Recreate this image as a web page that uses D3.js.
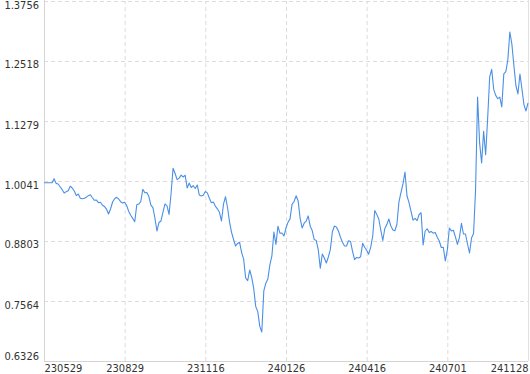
<!DOCTYPE html>
<html>
<head>
<meta charset="utf-8">
<script src="https://cdn.jsdelivr.net/npm/d3@7"></script>
<style>
  body { margin: 0; background: #fff; }
  .lbl text { font-family: "DejaVu Sans Condensed", "Liberation Sans", sans-serif; font-size: 11px; fill: #333; }
</style>
</head>
<body>
<div id="chart"></div>
<script>
// tick labels on x (one every 40 points) and y
var dateLabels = ["230529", "230829", "231116", "240126", "240416", "240701", "241128"];
var yTicks = [0.6326, 0.7564, 0.8803, 1.0041, 1.1279, 1.2518, 1.3756];

// series
var values = [
  1.0006, 1.0006, 1.0006, 1.0006, 1.0006, 1.0089, 0.9992, 0.9980, 0.9922, 0.9862,
  0.9794, 0.9821, 0.9839, 0.9934, 0.9897, 0.9835, 0.9740, 0.9773, 0.9686, 0.9676,
  0.9686, 0.9707, 0.9738, 0.9757, 0.9695, 0.9643, 0.9647, 0.9593, 0.9602, 0.9540,
  0.9513, 0.9459, 0.9360, 0.9463, 0.9608, 0.9676, 0.9704, 0.9670, 0.9614, 0.9587,
  0.9602, 0.9536, 0.9414, 0.9333, 0.9269, 0.9201, 0.9550, 0.9565, 0.9618, 0.9870,
  0.9798, 0.9802, 0.9721, 0.9542, 0.9490, 0.9277, 0.9009, 0.9184, 0.9216, 0.9401,
  0.9567, 0.9529, 0.9350, 0.9777, 1.0303, 1.0196, 1.0068, 1.0101, 1.0161, 1.0124,
  1.0159, 0.9897, 0.9999, 0.9907, 0.9944, 0.9887, 0.9959, 0.9750, 0.9732, 0.9746,
  0.9823, 0.9796, 0.9686, 0.9593, 0.9608, 0.9519, 0.9467, 0.9395, 0.9216, 0.9562,
  0.9717, 0.9494, 0.9199, 0.8982, 0.8834, 0.8700, 0.8752, 0.8776, 0.8563, 0.8427,
  0.8039, 0.7984, 0.8204, 0.8050, 0.7818, 0.7448, 0.7345, 0.7040, 0.6925, 0.7771,
  0.7932, 0.8018, 0.8309, 0.8494, 0.8989, 0.8731, 0.9108, 0.8964, 0.8968, 0.8906,
  0.9071, 0.9191, 0.9259, 0.9560, 0.9618, 0.9735, 0.9635, 0.9271, 0.9071, 0.9170,
  0.9213, 0.9320, 0.9108, 0.9019, 0.8832, 0.8812, 0.8621, 0.8239, 0.8535, 0.8452,
  0.8349, 0.8473, 0.8629, 0.8994, 0.9112, 0.9089, 0.9009, 0.8881, 0.8778, 0.8700,
  0.8700, 0.8807, 0.8791, 0.8590, 0.8417, 0.8464, 0.8452, 0.8477, 0.8755, 0.8673,
  0.8613, 0.8530, 0.8672, 0.8906, 0.9432, 0.9352, 0.9257, 0.9030, 0.8813, 0.9061,
  0.9141, 0.9257, 0.9112, 0.9030, 0.9015, 0.9148, 0.9608, 0.9802, 0.9980, 1.0227,
  0.9732, 0.9596, 0.9412, 0.9234, 0.9269, 0.9224, 0.9350, 0.9385, 0.8721, 0.9009,
  0.9055, 0.8979, 0.8999, 0.8964, 0.8979, 0.8879, 0.8803, 0.8669, 0.8673, 0.8390,
  0.8617, 0.9071, 0.9011, 0.9024, 0.8886, 0.8732, 0.8879, 0.9166, 0.8947, 0.8947,
  0.8741, 0.8555, 0.8865, 0.8957, 0.9856, 1.1775, 1.0832, 1.0413, 1.1067, 1.0582,
  1.1341, 1.2188, 1.2347, 1.1932, 1.1808, 1.1740, 1.1771, 1.1569, 1.2250, 1.2299,
  1.2539, 1.3116, 1.2869, 1.2425, 1.2012, 1.1837, 1.2250, 1.1940, 1.1613, 1.1486,
  1.1651
];

var width = 530, height = 374;
var plotLeft = 44, plotRight = 528, plotTop = 1, plotBottom = 361;

var last = values.length - 1;
var step = last / (dateLabels.length - 1);
var tickIdx = dateLabels.map(function (d, i) { return i * step; });

var x = d3.scaleLinear().domain([0, last]).range([plotLeft, plotRight]);
var y = d3.scaleLinear().domain([yTicks[0], yTicks[yTicks.length - 1]]).range([plotBottom, plotTop]);

var svg = d3.select("#chart").append("svg")
    .attr("width", width)
    .attr("height", height)
    .style("display", "block");

// horizontal grid
svg.append("g")
    .attr("transform", "translate(" + plotLeft + ",0)")
    .call(d3.axisLeft(y).tickValues(yTicks).tickSize(-(plotRight - plotLeft)).tickFormat(""))
    .call(function (g) {
        g.select(".domain").remove();
        g.selectAll(".tick line").attr("stroke", "#dcdcdc").attr("stroke-dasharray", "4,3");
    });

// vertical grid
svg.append("g")
    .attr("transform", "translate(0," + plotBottom + ")")
    .call(d3.axisBottom(x).tickValues(tickIdx).tickSize(-(plotBottom - plotTop)).tickFormat(""))
    .call(function (g) {
        g.select(".domain").remove();
        g.selectAll(".tick line").attr("stroke", "#dcdcdc").attr("stroke-dasharray", "4,3");
    });

// frame lines: left, bottom, right
svg.append("line").attr("x1", plotLeft + 0.5).attr("x2", plotLeft + 0.5).attr("y1", 0).attr("y2", plotBottom)
    .attr("stroke", "#d4d4d4");
svg.append("line").attr("x1", plotLeft).attr("x2", plotRight).attr("y1", plotBottom + 0.5).attr("y2", plotBottom + 0.5)
    .attr("stroke", "#d4d4d4");
svg.append("line").attr("x1", plotRight + 0.5).attr("x2", plotRight + 0.5).attr("y1", 0).attr("y2", plotBottom)
    .attr("stroke", "#e0e0e0");

// y labels hang under their grid line, the lowest one sits above it
svg.append("g")
    .attr("class", "lbl")
    .attr("transform", "translate(39,0)")
    .call(d3.axisLeft(y).tickValues(yTicks).tickSize(0).tickPadding(0).tickFormat(d3.format(".4f")))
    .call(function (g) {
        g.select(".domain").remove();
        g.selectAll(".tick text")
            .attr("x", 0)
            .attr("dy", function (d, i) { return i === 0 ? "-2px" : "7px"; })
            .attr("text-anchor", "end");
    });

// x labels: first one starts at the axis, last one ends at the edge
svg.append("g")
    .attr("class", "lbl")
    .attr("transform", "translate(0," + plotBottom + ")")
    .call(d3.axisBottom(x).tickValues(tickIdx).tickSize(0).tickPadding(0)
        .tickFormat(function (d, i) { return dateLabels[i]; }))
    .call(function (g) {
        g.select(".domain").remove();
        g.selectAll(".tick text")
            .attr("dy", "11px")
            .attr("y", 0)
            .attr("text-anchor", function (d, i) {
                return i === 0 ? "start" : (i === dateLabels.length - 1 ? "end" : "middle");
            });
    });

var line = d3.line()
    .x(function (d, i) { return x(i); })
    .y(function (d) { return y(d); });

svg.append("path")
    .datum(values)
    .attr("d", line)
    .attr("fill", "none")
    .attr("stroke", "#4a8fe6")
    .attr("stroke-width", 1.1)
    .attr("stroke-linejoin", "round");
</script>
</body>
</html>
